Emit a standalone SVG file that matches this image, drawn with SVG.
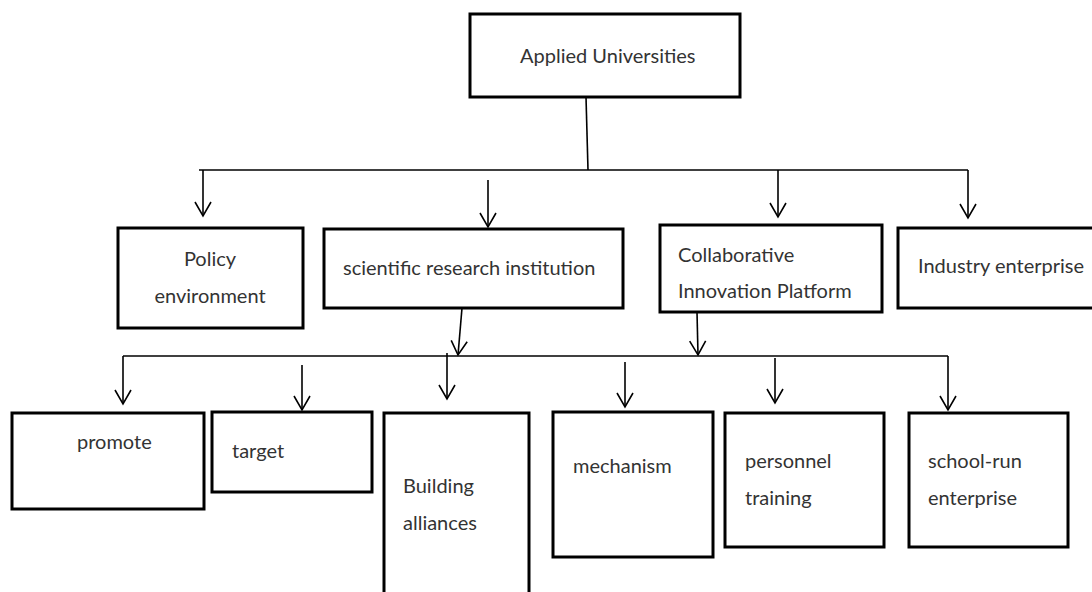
<svg xmlns="http://www.w3.org/2000/svg" width="1092" height="592" viewBox="0 0 1092 592">
  <style>
    .box { fill: #ffffff; stroke: #000000; stroke-width: 3; }
    .lbl { font-family: Lato, "Liberation Sans", sans-serif; font-size: 20px; fill: #333333; }
    .mid { text-anchor: middle; }
    .wire { fill: none; stroke: #000000; stroke-width: 1.6; }
    .arrow { marker-end: url(#vhead); }
  </style>
  <defs>
    <!-- open V arrowhead, drawn along the line direction -->
    <marker id="vhead" viewBox="-15 -9 16 18" markerWidth="16" markerHeight="18" refX="0" refY="0" orient="auto" markerUnits="userSpaceOnUse" overflow="visible">
      <path d="M -14 -8 L 0 0 L -14 8" fill="none" stroke="#000000" stroke-width="1.6"/>
    </marker>
  </defs>
  <rect width="1092" height="592" fill="#ffffff"/>

  <!-- connectors -->
  <g id="connectors" class="wire">
    <!-- upper tier -->
    <line x1="586" y1="97" x2="588" y2="170"/>
    <line x1="199" y1="170" x2="968" y2="170"/>
    <path class="arrow" d="M 203 170 L 203 216"/>
    <path class="arrow" d="M 488 180 L 488 227"/>
    <path class="arrow" d="M 778 170 L 778 217"/>
    <path class="arrow" d="M 968 170 L 968 218"/>
    <!-- lower tier -->
    <path class="arrow" d="M 462 308 L 458 355"/>
    <path class="arrow" d="M 697 312 L 698 355"/>
    <line x1="123" y1="356" x2="948" y2="356"/>
    <path class="arrow" d="M 123 356 L 123 404"/>
    <path class="arrow" d="M 302 365 L 302 410"/>
    <path class="arrow" d="M 447 353 L 447 399"/>
    <path class="arrow" d="M 625 362 L 625 407"/>
    <path class="arrow" d="M 775 358 L 775 403"/>
    <path class="arrow" d="M 948 356 L 948 410"/>
  </g>

  <g id="applied-universities">
    <rect class="box" x="470" y="14" width="270" height="83"/>
    <text class="lbl" x="520" y="63">Applied Universities</text>
  </g>

  <g id="policy-environment">
    <rect class="box" x="118" y="228" width="185" height="100"/>
    <text class="lbl mid" x="210" y="266">Policy</text>
    <text class="lbl mid" x="210" y="303">environment</text>
  </g>

  <g id="scientific-research-institution">
    <rect class="box" x="324" y="229" width="299" height="79"/>
    <text class="lbl" x="343" y="275">scientific research institution</text>
  </g>

  <g id="collaborative-innovation-platform">
    <rect class="box" x="660" y="225" width="222" height="87"/>
    <text class="lbl" x="678" y="262">Collaborative</text>
    <text class="lbl" x="678" y="298">Innovation Platform</text>
  </g>

  <g id="industry-enterprise">
    <rect class="box" x="898" y="228" width="200" height="80"/>
    <text class="lbl" x="918" y="273">Industry enterprise</text>
  </g>

  <g id="promote">
    <rect class="box" x="12" y="413" width="192" height="96"/>
    <text class="lbl" x="77" y="449">promote</text>
  </g>

  <g id="target">
    <rect class="box" x="212" y="412" width="160" height="80"/>
    <text class="lbl" x="232" y="458">target</text>
  </g>

  <g id="building-alliances">
    <rect class="box" x="384" y="413" width="145" height="190"/>
    <text class="lbl" x="403" y="493">Building</text>
    <text class="lbl" x="403" y="530">alliances</text>
  </g>

  <g id="mechanism">
    <rect class="box" x="553" y="412" width="160" height="145"/>
    <text class="lbl" x="573" y="473">mechanism</text>
  </g>

  <g id="personnel-training">
    <rect class="box" x="725" y="413" width="159" height="134"/>
    <text class="lbl" x="745" y="468">personnel</text>
    <text class="lbl" x="745" y="505">training</text>
  </g>

  <g id="school-run-enterprise">
    <rect class="box" x="909" y="413" width="159" height="134"/>
    <text class="lbl" x="928" y="468">school-run</text>
    <text class="lbl" x="928" y="505">enterprise</text>
  </g>
</svg>
